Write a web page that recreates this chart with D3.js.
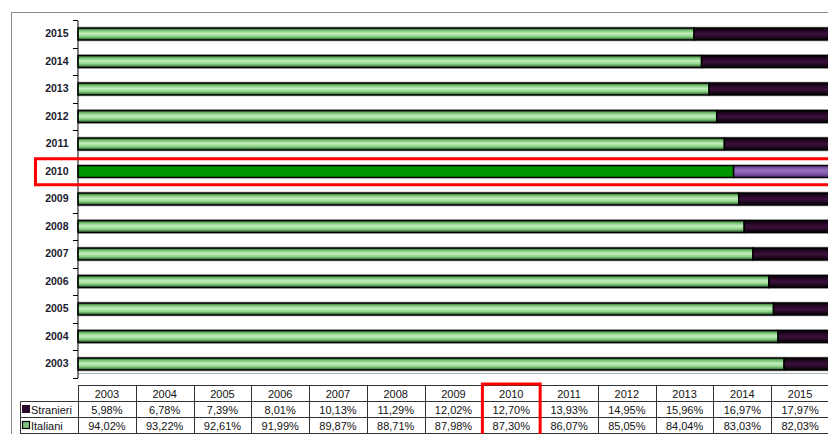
<!DOCTYPE html>
<html><head><meta charset="utf-8">
<script src="https://cdn.jsdelivr.net/npm/d3@7/dist/d3.min.js"></script>
<style>html,body{margin:0;padding:0;background:#fff;}svg{display:block;font-family:"Liberation Sans",Arial,sans-serif;}</style>
</head><body><svg id="c" width="828" height="434"></svg>
<script>
const years = [2003,2004,2005,2006,2007,2008,2009,2010,2011,2012,2013,2014,2015];
const stranieri = [5.98,6.78,7.39,8.01,10.13,11.29,12.02,12.70,13.93,14.95,15.96,16.97,17.97];
const italiani = [94.02,93.22,92.61,91.99,89.87,88.71,87.98,87.30,86.07,85.05,84.04,83.03,82.03];
const seriesNames = ["Stranieri","Italiani"];
const highlightYear = 2010;

const svg = d3.select("#c");
const W = 828, H = 434;
const fmt = v => v.toFixed(2).replace(".", ",") + "%";

const defs = svg.append("defs");
function grad(id, stops){
  const g = defs.append("linearGradient").attr("id", id).attr("x1",0).attr("y1",0).attr("x2",0).attr("y2",1);
  stops.forEach(s => g.append("stop").attr("offset", s[0]).attr("stop-color", s[1]));
}
grad("gGreen", [[0,"#1f5a1f"],[0.2,"#76c071"],[0.45,"#c4efbe"],[0.7,"#8fd68a"],[1,"#1f551f"]]);
grad("gPurple", [[0,"#0a000a"],[0.35,"#2e0a2e"],[0.55,"#3a103a"],[1,"#050005"]]);
grad("gHiPurple", [[0,"#5a3380"],[0.4,"#9470bd"],[0.6,"#8a62b4"],[1,"#4f2a75"]]);

// outer frame
svg.append("rect").attr("x",11.5).attr("y",12.5).attr("width",W).attr("height",H)
  .attr("fill","none").attr("stroke","#8a8a8a").attr("stroke-width",1);

const x = d3.scaleLinear().domain([0,100]).range([78, 829]);
const yCats = years.slice().reverse().map(String);
const y = d3.scaleBand().domain(yCats).range([20.25, 377.75]).paddingInner(0).paddingOuter(0);
const barH = 12;

// plot bottom gray line
svg.append("line").attr("x1",78).attr("x2",W).attr("y1",373.5).attr("y2",373.5)
  .attr("stroke","#b0b0b0").attr("stroke-width",1);

const rows = years.map((yr,i) => ({yr, it: italiani[i], st: stranieri[i]}));
const g = svg.append("g");
rows.forEach(d => {
  const yc = y(String(d.yr)) + y.bandwidth()/2;
  const y0 = yc - barH/2;
  const hi = d.yr === highlightYear;
  if (!hi) {
    g.append("line").attr("x1",x(0)).attr("x2",W).attr("y1",y0-1).attr("y2",y0-1).attr("stroke","#c8c8c8");
    g.append("line").attr("x1",x(0)).attr("x2",W).attr("y1",y0+barH+1).attr("y2",y0+barH+1).attr("stroke","#c8c8c8");
  }
  g.append("rect").attr("x",x(0)).attr("y",y0).attr("width",x(d.it)-x(0)).attr("height",barH)
    .attr("fill", hi ? "#009400" : "url(#gGreen)").attr("stroke","#000").attr("stroke-width",1.5);
  g.append("rect").attr("x",x(d.it)).attr("y",y0).attr("width",x(100)-x(d.it)).attr("height",barH)
    .attr("fill", hi ? "url(#gHiPurple)" : "url(#gPurple)").attr("stroke","#000").attr("stroke-width",1.5);
});

// y axis
const ax = d3.axisLeft(y).tickSize(0).tickPadding(9);
const axg = svg.append("g").attr("transform","translate(77.5,0)").call(ax);
axg.select(".domain").attr("stroke","#000").attr("stroke-width",1);
axg.selectAll("text").attr("font-size","10.5px").attr("font-weight","bold").attr("fill","#1a1a2e")
  .attr("font-family","'Liberation Sans',Arial,sans-serif");
const bounds = yCats.map(c => y(c)).concat([y.range()[1]]);
svg.append("g").selectAll("line").data(bounds).join("line")
  .attr("x1",73).attr("x2",78).attr("y1",d=>Math.round(d)+0.5).attr("y2",d=>Math.round(d)+0.5)
  .attr("stroke","#000").attr("stroke-width",1);

// highlight box around 2010 row
const hy = y(String(highlightYear));
svg.append("rect").attr("x",35.5).attr("y",hy+1).attr("width",W).attr("height",y.bandwidth()-1.5)
  .attr("fill","none").attr("stroke","#ff0000").attr("stroke-width",3);

// data table
const colW = (x(100)-x(0)) / years.length;
const tTop = 385.5, r1 = 401.5, r2 = 417.5, tBot = 433.5;
const labL = 20.5;
const tg = svg.append("g");
const lineC = "#333";
tg.append("line").attr("x1",x(0)).attr("x2",W).attr("y1",tTop).attr("y2",tTop).attr("stroke",lineC);
[r1,r2,tBot].forEach(yy => tg.append("line").attr("x1",labL).attr("x2",W).attr("y1",yy).attr("y2",yy).attr("stroke",lineC));
tg.append("line").attr("x1",labL).attr("x2",labL).attr("y1",r1).attr("y2",H).attr("stroke",lineC);
years.forEach((yr,i) => {
  const xl = Math.round(x(0)+i*colW)+0.5;
  tg.append("line").attr("x1",xl).attr("x2",xl).attr("y1",tTop).attr("y2",H).attr("stroke",lineC);
});
const tFont = "'Liberation Sans',Arial,sans-serif";
const fs = "11px";
years.forEach((yr,i) => {
  const cx = x(0)+(i+0.5)*colW;
  tg.append("text").attr("x",cx).attr("y",397.5).attr("text-anchor","middle").attr("font-size",fs)
    .attr("font-family",tFont).attr("fill","#111").text(yr);
  tg.append("text").attr("x",cx).attr("y",413.5).attr("text-anchor","middle").attr("font-size",fs)
    .attr("font-family",tFont).attr("fill","#111").text(fmt(stranieri[i]));
  tg.append("text").attr("x",cx).attr("y",429.5).attr("text-anchor","middle").attr("font-size",fs)
    .attr("font-family",tFont).attr("fill","#111").text(fmt(italiani[i]));
});
tg.append("rect").attr("x",22).attr("y",405).attr("width",8).attr("height",8).attr("fill","#2a0a2a");
tg.append("rect").attr("x",22.5).attr("y",421.5).attr("width",7).attr("height",7).attr("fill","#7cc47c").attr("stroke","#000").attr("stroke-width",1.2);
tg.append("text").attr("x",31).attr("y",413.5).attr("font-size",fs).attr("font-family",tFont).attr("fill","#111").text(seriesNames[0]);
tg.append("text").attr("x",31).attr("y",429.5).attr("font-size",fs).attr("font-family",tFont).attr("fill","#111").text(seriesNames[1]);

const hi = years.indexOf(highlightYear);
svg.append("rect").attr("x",x(0)+hi*colW).attr("y",384).attr("width",colW).attr("height",52)
  .attr("fill","none").attr("stroke","#ff0000").attr("stroke-width",3);
</script></body></html>
